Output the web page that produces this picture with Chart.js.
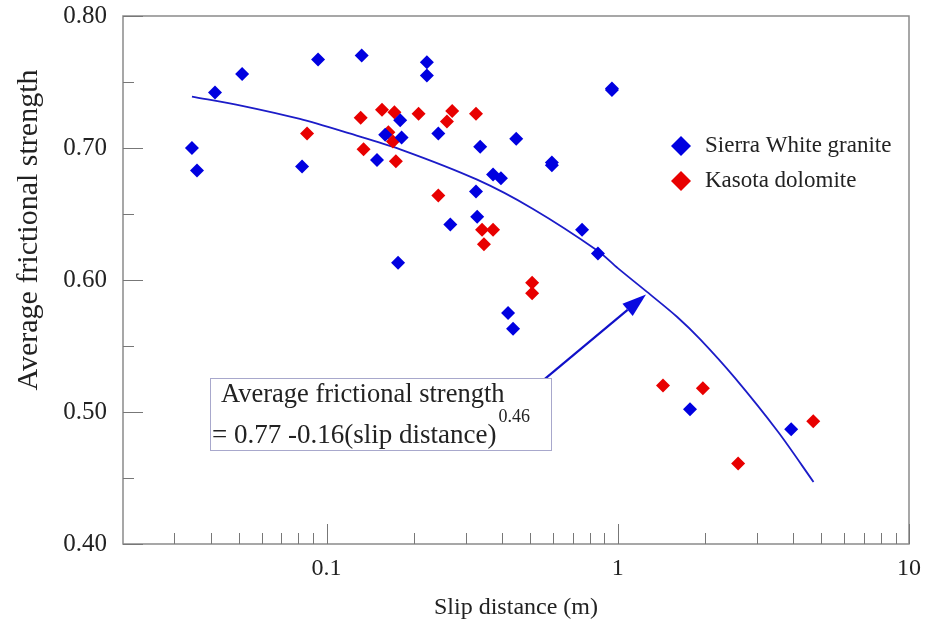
<!DOCTYPE html>
<html><head><meta charset="utf-8">
<script src="https://cdn.jsdelivr.net/npm/chart.js@4.4.1/dist/chart.umd.min.js"></script>
<style>html,body{margin:0;padding:0;background:#fff}#wrap{width:933px;height:632px;position:relative}</style>
</head><body><div id="wrap"><canvas id="c"></canvas></div>
<script>
// ---- data ----
const graniteX = [0.0345,0.0359,0.0414,0.0513,0.0824,0.0935,0.132,0.149,0.159,0.176,0.179,0.181,0.221,0.221,0.242,0.266,0.326,0.329,0.337,0.373,0.397,0.420,0.437,0.448,0.594,0.594,0.754,0.855,0.955,0.955,1.77,3.94];
const graniteY = [0.700,0.683,0.742,0.756,0.686,0.767,0.770,0.691,0.710,0.613,0.721,0.708,0.765,0.755,0.711,0.642,0.667,0.648,0.701,0.680,0.677,0.575,0.563,0.707,0.689,0.687,0.638,0.620,0.745,0.744,0.502,0.487];
const dolomiteX = [0.0857,0.131,0.134,0.155,0.163,0.169,0.171,0.173,0.207,0.242,0.259,0.270,0.326,0.342,0.347,0.373,0.508,0.508,1.43,1.96,2.59,4.69];
const dolomiteY = [0.711,0.723,0.699,0.729,0.712,0.705,0.727,0.690,0.726,0.664,0.720,0.728,0.726,0.638,0.627,0.638,0.598,0.590,0.520,0.518,0.461,0.493];
const fitX = [0.0345,0.0513,0.081,0.12,0.179,0.329,0.51,0.855,1.0,1.26,1.60,1.92,2.52,3.55,4.7];
const fitY = [0.739,0.732,0.722,0.711,0.699,0.676,0.654,0.622,0.609,0.591,0.572,0.555,0.526,0.485,0.447];
const seriesNames = ["Sierra White granite","Kasota dolomite"];
const xMajorTicks = [0.1,1,10];
const xMinorTicks = [0.03,0.04,0.05,0.06,0.07,0.08,0.09,0.2,0.3,0.4,0.5,0.6,0.7,0.8,0.9,2,3,4,5,6,7,8,9];
const yMajorTicks = [0.4,0.5,0.6,0.7,0.8];
const yMinorTicks = [0.45,0.55,0.65,0.75];
const xTitle = "Slip distance (m)";
const yTitle = "Average frictional strength";
const noteLine1 = "Average frictional strength";
const noteLine2 = "= 0.77 -0.16(slip distance)";
const noteExp = "0.46";
// annotation anchors in data units
const arrowFrom = {x:0.541, y:0.522};
const arrowTo = {x:1.25, y:0.589};

const SERIF = "'Liberation Serif','Times New Roman',serif";
const BLUE = '#0000e0', RED = '#e80000', LINE = '#1c1cc8', TXT = '#222';

const toPts = (xs, ys) => xs.map((x,i)=>({x, y: ys[i]}));

const decor = {
  id:'decor',
  afterDraw(chart){
    const {ctx, chartArea:a, scales:{x, y}} = chart;
    ctx.save();
    // frame
    ctx.strokeStyle = '#8a8a8a'; ctx.lineWidth = 1.5;
    ctx.strokeRect(a.left, a.top, a.right-a.left, a.bottom-a.top);
    // inward ticks
    ctx.lineWidth = 1; ctx.strokeStyle = '#777';
    ctx.beginPath();
    xMajorTicks.forEach(v=>{const px=Math.round(x.getPixelForValue(v))+0.5; ctx.moveTo(px,a.bottom); ctx.lineTo(px,a.bottom-20);});
    xMinorTicks.forEach(v=>{const px=Math.round(x.getPixelForValue(v))+0.5; ctx.moveTo(px,a.bottom); ctx.lineTo(px,a.bottom-11);});
    yMajorTicks.forEach(v=>{const py=Math.round(y.getPixelForValue(v))+0.5; ctx.moveTo(a.left,py); ctx.lineTo(a.left+20,py);});
    yMinorTicks.forEach(v=>{const py=Math.round(y.getPixelForValue(v))+0.5; ctx.moveTo(a.left,py); ctx.lineTo(a.left+11,py);});
    ctx.stroke();
    // y title
    ctx.fillStyle = TXT;
    ctx.font = '30px ' + SERIF;
    ctx.textAlign = 'center'; ctx.textBaseline = 'middle';
    ctx.save(); ctx.translate(29, 230); ctx.rotate(-Math.PI/2); ctx.fillText(yTitle, 0, 0); ctx.restore();
    // legend
    const items = [{c:BLUE, t:seriesNames[0], yy:146},{c:RED, t:seriesNames[1], yy:181}];
    ctx.font = '23px ' + SERIF; ctx.textAlign='left';
    items.forEach(it=>{
      ctx.fillStyle = it.c;
      ctx.beginPath(); ctx.moveTo(681,it.yy-10); ctx.lineTo(691,it.yy); ctx.lineTo(681,it.yy+10); ctx.lineTo(671,it.yy); ctx.closePath(); ctx.fill();
      ctx.fillStyle = TXT; ctx.fillText(it.t, 705, it.yy);
    });
    // arrow
    const ax0 = x.getPixelForValue(arrowFrom.x), ay0 = y.getPixelForValue(arrowFrom.y);
    const ax1 = x.getPixelForValue(arrowTo.x), ay1 = y.getPixelForValue(arrowTo.y);
    const ang = Math.atan2(ay1-ay0, ax1-ax0);
    const hl = 24, hw = 8;
    const bx = ax1 - hl*Math.cos(ang), by = ay1 - hl*Math.sin(ang);
    ctx.strokeStyle = '#1010c8'; ctx.lineWidth = 2.2;
    ctx.beginPath(); ctx.moveTo(ax0,ay0); ctx.lineTo(bx,by); ctx.stroke();
    ctx.fillStyle = '#0a0ae0';
    ctx.beginPath(); ctx.moveTo(ax1,ay1);
    ctx.lineTo(bx - hw*Math.sin(ang), by + hw*Math.cos(ang));
    ctx.lineTo(bx + hw*Math.sin(ang), by - hw*Math.cos(ang));
    ctx.closePath(); ctx.fill();
    // annotation box
    ctx.fillStyle = '#fff';
    ctx.fillRect(210,378,341,72);
    ctx.strokeStyle = '#a8a8cc'; ctx.lineWidth = 1;
    ctx.strokeRect(210.5,378.5,341,72);
    ctx.fillStyle = TXT; ctx.textBaseline='alphabetic';
    ctx.font = '26.5px ' + SERIF;
    ctx.fillText(noteLine1, 221, 402);
    ctx.font = '27px ' + SERIF;
    ctx.fillText(noteLine2, 212, 443);
    const w2 = ctx.measureText(noteLine2).width;
    ctx.font = '18px ' + SERIF;
    ctx.fillText(noteExp, 212 + w2 + 2, 422);
    ctx.restore();
  }
};

new Chart(document.getElementById('c'), {
  type:'scatter',
  data:{datasets:[
    {label:'fit', type:'line', data: toPts(fitX, fitY), borderColor: LINE, borderWidth:1.8, pointRadius:0, fill:false, tension:0.3, order:3},
    {label: seriesNames[0], data: toPts(graniteX, graniteY), pointStyle:'rectRot', pointRadius:7, backgroundColor: BLUE, borderColor: BLUE, borderWidth:0, order:1},
    {label: seriesNames[1], data: toPts(dolomiteX, dolomiteY), pointStyle:'rectRot', pointRadius:7, backgroundColor: RED, borderColor: RED, borderWidth:0, order:2}
  ]},
  options:{
    responsive:true, maintainAspectRatio:false, animation:false,
    layout:{padding:{left:0, top:16, right:24, bottom:0}},
    plugins:{legend:{display:false}, tooltip:{enabled:false}},
    scales:{
      x:{type:'logarithmic', min:0.02, max:10,
        afterBuildTicks(s){ s.ticks = xMajorTicks.map(v=>({value:v, major:true})); },
        afterFit(s){ s.height = 88; s.paddingLeft = 0; s.paddingRight = 0; },
        grid:{display:false, drawTicks:false}, border:{display:false},
        ticks:{autoSkip:false, maxRotation:0, padding:10, color:TXT, font:{family:SERIF, size:24}, callback:(v)=>String(v)},
        title:{display:true, text:xTitle, color:TXT, font:{family:SERIF, size:24}, padding:{top:0,bottom:10}}
      },
      y:{type:'linear', min:0.4, max:0.8,
        afterBuildTicks(s){ s.ticks = yMajorTicks.map(v=>({value:v})); },
        afterFit(s){ s.width = 123; s.paddingTop = 0; s.paddingBottom = 0; },
        grid:{display:false, drawTicks:false}, border:{display:false},
        ticks:{padding:16, color:TXT, font:{family:SERIF, size:25}, callback:(v)=>Number(v).toFixed(2)}
      }
    }
  },
  plugins:[decor]
});
</script></body></html>
